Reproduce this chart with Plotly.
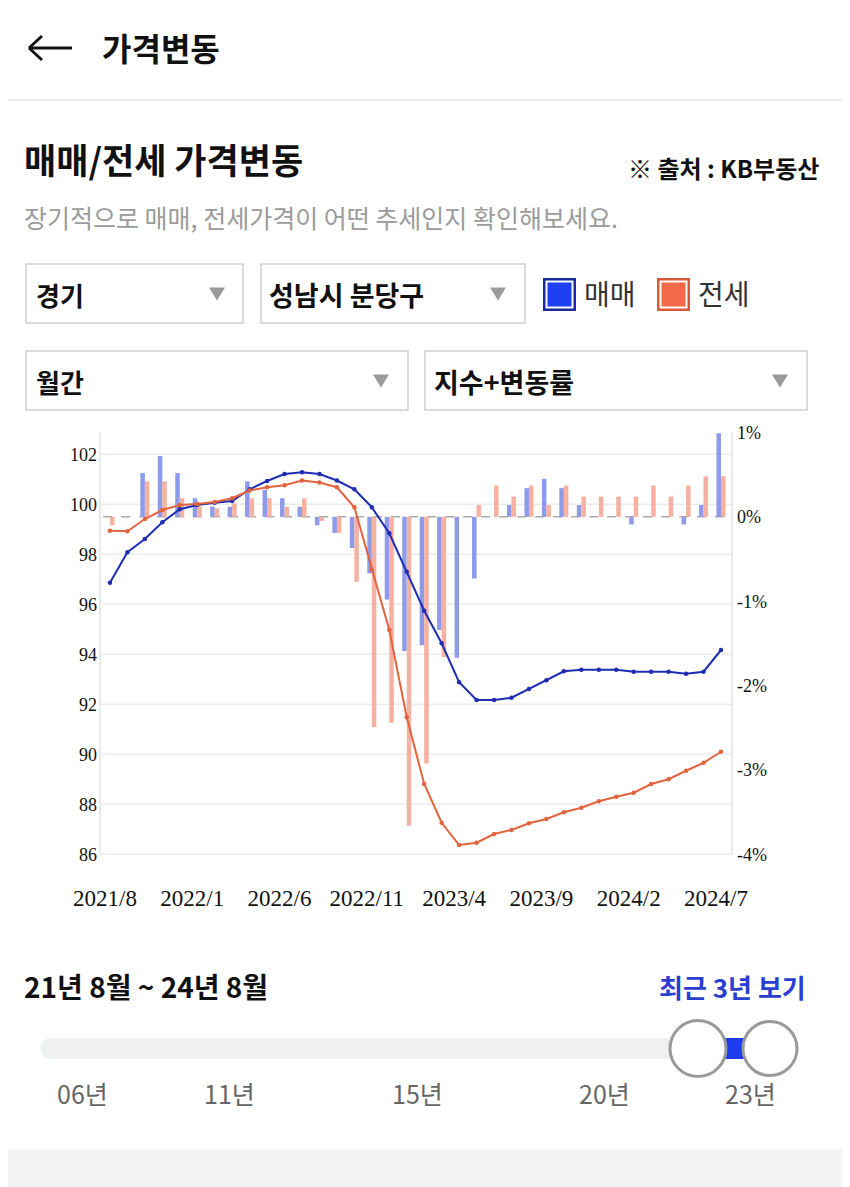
import plotly.graph_objects as go

# ---------------- data ----------------
months = ["2021/8", "2021/9", "2021/10", "2021/11", "2021/12",
          "2022/1", "2022/2", "2022/3", "2022/4", "2022/5", "2022/6", "2022/7",
          "2022/8", "2022/9", "2022/10", "2022/11", "2022/12",
          "2023/1", "2023/2", "2023/3", "2023/4", "2023/5", "2023/6", "2023/7",
          "2023/8", "2023/9", "2023/10", "2023/11", "2023/12",
          "2024/1", "2024/2", "2024/3", "2024/4", "2024/5", "2024/6", "2024/7"]

# 매매 index (left axis)
sale_index = [96.86, 98.08, 98.61, 99.28, 99.80, 99.97, 100.06, 100.13, 100.60, 100.93,
              101.21, 101.28, 101.21, 100.95, 100.60, 99.88, 98.84, 97.30, 95.74, 94.44,
              92.88, 92.17, 92.17, 92.26, 92.61, 92.96, 93.32, 93.38, 93.38, 93.38,
              93.30, 93.30, 93.30, 93.22, 93.30, 94.17]
# 전세 index (left axis)
jeonse_index = [98.94, 98.92, 99.41, 99.77, 99.97, 100.01, 100.09, 100.24, 100.55, 100.68,
                100.76, 100.95, 100.87, 100.68, 99.88, 97.38, 94.97, 91.48, 88.81, 87.26,
                86.37, 86.46, 86.81, 86.97, 87.24, 87.41, 87.68, 87.86, 88.12, 88.30,
                88.46, 88.81, 89.00, 89.34, 89.66, 90.10]
# 매매 monthly change % (right axis)
sale_change = [None, None, 0.52, 0.72, 0.52, 0.22, 0.12, 0.12, 0.42, 0.32,
               0.22, 0.12, -0.10, -0.19, -0.37, -0.67, -0.98, -1.59, -1.52, -1.34,
               -1.67, -0.73, 0.0, 0.14, 0.34, 0.45, 0.34, 0.14, 0.0, 0.0,
               -0.09, 0.0, 0.0, -0.09, 0.14, 0.99]
# 전세 monthly change % (right axis)
jeonse_change = [-0.10, None, 0.42, 0.42, 0.22, 0.12, 0.10, 0.16, 0.22, 0.22,
                 0.12, 0.22, -0.05, -0.19, -0.77, -2.49, -2.44, -3.66, -2.92, -1.66,
                 0.0, 0.14, 0.37, 0.24, 0.37, 0.14, 0.37, 0.24, 0.24, 0.24,
                 0.24, 0.37, 0.24, 0.37, 0.48, 0.48]

x_tick_labels = ["2021/8", "2022/1", "2022/6", "2022/11", "2023/4", "2023/9", "2024/2", "2024/7"]
left_ticks = [86, 88, 90, 92, 94, 96, 98, 100, 102]
right_ticks = [-4, -3, -2, -1, 0, 1]
right_tick_text = ["-4%", "-3%", "-2%", "-1%", "0%", "1%"]

slider_labels = ["06년", "11년", "15년", "20년", "23년"]

# ---------------- layout geometry (page pixels) ----------------
OFF = 8                      # default body margin of the html page
FIG_W, FIG_H = 850 - OFF, 1187 - OFF
L, T, R, B = 100, 432, 732, 855   # plot area in page coordinates
W, H = R - L, B - T


def fx(x):
    return (x - L) / W


def fy(y):
    return (B - y) / H


KR = "Noto Sans CJK KR"
SERIF = "Liberation Serif"

fig = go.Figure()

fig.add_trace(go.Bar(x=months, y=sale_change, name="매매 변동률",
                     marker=dict(color="#8d9be9", line=dict(width=0)), yaxis="y"))
fig.add_trace(go.Bar(x=months, y=jeonse_change, name="전세 변동률",
                     marker=dict(color="#f5b1a1", line=dict(width=0)), yaxis="y"))
fig.add_trace(go.Scatter(x=months, y=sale_index, name="매매", mode="lines+markers",
                         line=dict(color="#1f2db3", width=2),
                         marker=dict(size=4.5, color="#1f2db3"), yaxis="y2"))
fig.add_trace(go.Scatter(x=months, y=jeonse_index, name="전세", mode="lines+markers",
                         line=dict(color="#e2643f", width=2),
                         marker=dict(size=4.5, color="#e2643f"), yaxis="y2"))

shapes = []
# horizontal grid lines (left axis values)
for v in left_ticks:
    shapes.append(dict(type="line", xref="paper", x0=0, x1=1, yref="y2", y0=v, y1=v,
                       line=dict(color="#ececec", width=1.5), layer="below"))
# dashed zero line for bars
shapes.append(dict(type="line", xref="paper", x0=0.005, x1=1, yref="y", y0=0, y1=0,
                   line=dict(color="#a9a9a9", width=1.5, dash="dash"), layer="below"))
# plot border verticals
for xp in (0, 1):
    shapes.append(dict(type="line", xref="paper", yref="paper", x0=xp, x1=xp, y0=0, y1=1,
                       line=dict(color="#e9e9e9", width=2), layer="below"))


def rect(x0, y0, x1, y1, fill, line_color=None, lw=0, layer="above"):
    shapes.append(dict(type="rect", xref="paper", yref="paper",
                       x0=fx(x0), x1=fx(x1), y0=fy(y1), y1=fy(y0),
                       fillcolor=fill,
                       line=dict(color=line_color or fill, width=lw), layer=layer))


def circle(cx, cy, r, fill, line_color, lw):
    shapes.append(dict(type="circle", xref="paper", yref="paper",
                       x0=fx(cx - r), x1=fx(cx + r), y0=fy(cy + r), y1=fy(cy - r),
                       fillcolor=fill, line=dict(color=line_color, width=lw)))


def line(x0, y0, x1, y1, color, lw):
    shapes.append(dict(type="line", xref="paper", yref="paper",
                       x0=fx(x0), x1=fx(x1), y0=fy(y0), y1=fy(y1),
                       line=dict(color=color, width=lw)))


def tri(cx, cy, w=16, h=13, color="#9a9a9a"):
    p = "M {a},{b} L {c},{b} L {d},{e} Z".format(
        a=fx(cx - w / 2), c=fx(cx + w / 2), b=fy(cy - h / 2), d=fx(cx), e=fy(cy + h / 2))
    shapes.append(dict(type="path", xref="paper", yref="paper", path=p,
                       fillcolor=color, line=dict(color=color, width=0)))


# header
line(30, 48, 72, 48, "#111111", 3)
line(29, 48, 42, 36, "#111111", 3)
line(29, 48, 42, 60, "#111111", 3)
line(0, 100, 850, 100, "#eeeeee", 2)

# dropdown boxes
rect(26, 264, 243, 323, "white", "#cfcfcf", 1.5)
rect(261, 264, 525, 323, "white", "#cfcfcf", 1.5)
rect(26, 351, 408, 410, "white", "#cfcfcf", 1.5)
rect(425, 351, 807, 410, "white", "#cfcfcf", 1.5)
tri(217, 294)
tri(498, 294)
tri(381, 381)
tri(780, 381)

# legend squares
rect(543, 278, 576, 311, "#1b2a9c")
rect(545.5, 280.5, 573.5, 308.5, "white")
rect(547.5, 282.5, 571.5, 306.5, "#1f3ff3")
rect(657, 278, 690, 311, "#d9583b")
rect(659.5, 280.5, 687.5, 308.5, "white")
rect(661.5, 282.5, 685.5, 306.5, "#f4694a")

# slider
rect(51, 1038, 705, 1059, "#eef0f1")
circle(51, 1048.5, 10.5, "#eef0f1", "#eef0f1", 0)
rect(716, 1038, 754, 1059, "#1d3cf0")
circle(698, 1048.5, 28, "white", "#9a9a9a", 3)
circle(770, 1048.5, 27, "white", "#9a9a9a", 3)

# bottom band
rect(0, 1149, 842, 1187, "#f4f4f5")

annotations = []


def text(x, y, s, size, color="#111111", anchor="left", bold=False, family=KR):
    annotations.append(dict(x=fx(x), y=fy(y), xref="paper", yref="paper",
                            text=("<b>%s</b>" % s) if bold else s, showarrow=False,
                            xanchor=anchor, yanchor="middle",
                            font=dict(size=size, color=color, family=family)))


text(100, 47, "가격변동", 32, bold=True)
text(22, 158, "매매/전세 가격변동", 35, bold=True)
text(821, 167, "※ 출처 : KB부동산", 24, bold=True, anchor="right")
text(22, 217, "장기적으로 매매, 전세가격이 어떤 추세인지 확인해보세요.", 25, color="#9b9b9b")

text(34, 294, "경기", 26, bold=True)
text(267, 294, "성남시 분당구", 27, bold=True)
text(582, 293, "매매", 28, color="#333333")
text(696, 293, "전세", 28, color="#333333")
text(34, 381, "월간", 26, bold=True)
text(432, 381, "지수+변동률", 27, bold=True)

text(22, 986, "21년 8월 ~ 24년 8월", 28, bold=True)
text(808, 986, "최근 3년 보기", 26, color="#2a3fd0", bold=True, anchor="right")

for lab, cx in zip(slider_labels, [82, 229, 417, 604, 750]):
    text(cx, 1093, lab, 25, color="#666666", anchor="center")

fig.update_layout(
    width=FIG_W, height=FIG_H,
    margin=dict(l=L - OFF, r=FIG_W - (R - OFF), t=T - OFF, b=FIG_H - (B - OFF),
                autoexpand=False),
    paper_bgcolor="white", plot_bgcolor="white",
    showlegend=False,
    barmode="group", bargap=0.48, bargroupgap=0.0,
    font=dict(family=KR),
    xaxis=dict(type="category", categoryorder="array", categoryarray=months,
               range=[-0.57, 35.63], tickvals=x_tick_labels, ticktext=x_tick_labels,
               showgrid=False, zeroline=False, showline=False, ticks="",
               tickfont=dict(family=SERIF, size=23, color="#111111"),
               ticklabelstandoff=27, ticklabelshift=-5),
    yaxis=dict(range=[-4.005, 1.005], side="right", tickvals=right_ticks,
               ticktext=right_tick_text, showgrid=False, zeroline=False,
               showline=False, ticks="",
               tickfont=dict(family=SERIF, size=18, color="#111111"),
               ticklabelstandoff=4),
    yaxis2=dict(range=[85.97, 102.89], side="left", overlaying="y",
                tickvals=left_ticks, ticktext=[str(v) for v in left_ticks],
                showgrid=False, zeroline=False, showline=False, ticks="",
                tickfont=dict(family=SERIF, size=18, color="#111111"),
                ticklabelstandoff=2),
    shapes=shapes,
    annotations=annotations,
)

fig.write_html("out.html")
